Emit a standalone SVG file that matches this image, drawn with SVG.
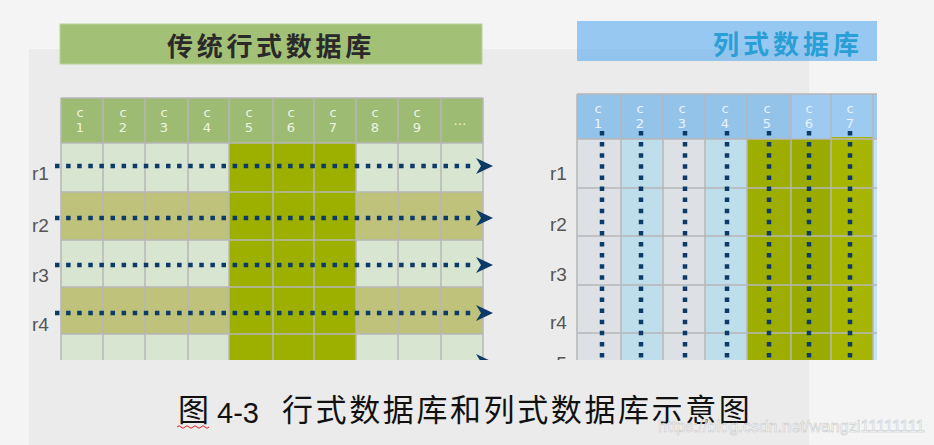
<svg xmlns="http://www.w3.org/2000/svg" width="934" height="445" viewBox="0 0 934 445">
<style>
.hdrL{font-family:"DejaVu Sans",sans-serif;font-size:13px;fill:#eef4e4;text-anchor:middle}
.hdrR{font-family:"DejaVu Sans",sans-serif;font-size:13px;fill:#e8f3fc;text-anchor:middle}
.rl{font-family:"Liberation Sans",Arial,sans-serif;font-size:19px;fill:#555555}
.gl{stroke:#b6b6b6;stroke-width:1.5;fill:none}
.dotH{stroke:#0c3a69;stroke-width:4.5;stroke-dasharray:4.5 6.6;fill:none}
.dotV{stroke:#0c3a69;stroke-width:4.5;stroke-dasharray:4.5 6.6;fill:none}
.ah{fill:#0c3a69}
.cjk{font-family:"Noto Sans CJK SC",sans-serif}
</style>
<defs>
<clipPath id="clipL"><rect x="0" y="90" width="520" height="270"/></clipPath>
<clipPath id="clipR"><rect x="540" y="90" width="337" height="270"/></clipPath>
<clipPath id="clipR5"><rect x="540" y="340" width="40" height="20"/></clipPath>
</defs>
<rect x="0" y="0" width="934" height="445" fill="#f4f4f4"/>
<rect x="29" y="49" width="780" height="396" fill="#ebebeb"/>

<g id="left-title">
<rect x="60" y="24" width="422" height="40" fill="#a3c077" stroke="#b9d199" stroke-width="1"/>
<text x="167" y="56" class="cjk" font-size="26" font-weight="700" letter-spacing="3.7" fill="#2a2a2a">传统行式数据库</text>
</g>

<g id="left-grid" clip-path="url(#clipL)">
<rect x="61" y="98" width="422" height="45" fill="#9dbb73"/>
<rect x="61" y="143" width="422" height="49" fill="#d8e5d0"/>
<rect x="61" y="192" width="422" height="48" fill="#bfc27a"/>
<rect x="61" y="240" width="422" height="47" fill="#d8e5d0"/>
<rect x="61" y="287" width="422" height="47" fill="#bfc27a"/>
<rect x="61" y="334" width="422" height="30" fill="#d8e5d0"/>
<rect x="229" y="143" width="127" height="221" fill="#9db000"/>
<path class="gl" d="M61,98H483M61,143H483M61,192H483M61,240H483M61,287H483M61,334H483M61,98V364M103,98V364M145,98V364M188,98V364M229,98V364M273,98V364M314,98V364M356,98V364M398,98V364M441,98V364M483,98V364"/>
<g>
<text class="hdrL" x="80" y="117">c</text><text class="hdrL" x="80" y="132">1</text>
<text class="hdrL" x="123" y="117">c</text><text class="hdrL" x="123" y="132">2</text>
<text class="hdrL" x="164" y="117">c</text><text class="hdrL" x="164" y="132">3</text>
<text class="hdrL" x="207" y="117">c</text><text class="hdrL" x="207" y="132">4</text>
<text class="hdrL" x="249" y="117">c</text><text class="hdrL" x="249" y="132">5</text>
<text class="hdrL" x="291" y="117">c</text><text class="hdrL" x="291" y="132">6</text>
<text class="hdrL" x="333" y="117">c</text><text class="hdrL" x="333" y="132">7</text>
<text class="hdrL" x="375" y="117">c</text><text class="hdrL" x="375" y="132">8</text>
<text class="hdrL" x="417" y="117">c</text><text class="hdrL" x="417" y="132">9</text>
<text class="hdrL" x="460" y="125">…</text>
</g>
</g>
<g id="left-labels">
<text class="rl" x="32" y="180">r1</text>
<text class="rl" x="32" y="232">r2</text>
<text class="rl" x="32" y="282">r3</text>
<text class="rl" x="32" y="331">r4</text>
</g>

<g id="right-title">
<rect x="577" y="21" width="300" height="40" fill="#97c8f2"/>
<rect x="577" y="49" width="232" height="12" fill="#8fc0ea" opacity="0.5"/>
<text x="713" y="54" class="cjk" font-size="26" font-weight="700" letter-spacing="4" fill="#2a9fd6">列式数据库</text>
</g>

<g id="right-grid" clip-path="url(#clipR)">
<rect x="577" y="94" width="300" height="45" fill="#94c3ea"/>
<rect x="791" y="94" width="86" height="45" fill="#9ccaf0"/>
<rect x="577" y="139" width="44" height="225" fill="#dde1e5"/>
<rect x="621" y="139" width="42" height="225" fill="#bfdeeb"/>
<rect x="663" y="139" width="42" height="225" fill="#dde1e5"/>
<rect x="705" y="139" width="42" height="225" fill="#bfdeeb"/>
<rect x="747" y="139" width="44" height="225" fill="#9dae00"/>
<rect x="791" y="139" width="40" height="225" fill="#9aab00"/>
<rect x="831" y="137" width="42" height="227" fill="#a5b500"/>
<rect x="873" y="139" width="4" height="225" fill="#c8e4f4"/>
<path class="gl" d="M577,94H877M577,139H877M577,188H877M577,236H877M577,285H877M577,333H877M577,94V364M621,94V364M663,94V364M705,94V364M747,94V364M791,94V364M831,94V364M873,94V364"/>
<g>
<text class="hdrR" x="598" y="113">c</text><text class="hdrR" x="598" y="128">1</text>
<text class="hdrR" x="640" y="113">c</text><text class="hdrR" x="640" y="128">2</text>
<text class="hdrR" x="682" y="113">c</text><text class="hdrR" x="682" y="128">3</text>
<text class="hdrR" x="725" y="113">c</text><text class="hdrR" x="725" y="128">4</text>
<text class="hdrR" x="767" y="113">c</text><text class="hdrR" x="767" y="128">5</text>
<text class="hdrR" x="809" y="113">c</text><text class="hdrR" x="809" y="128">6</text>
<text class="hdrR" x="850" y="113">c</text><text class="hdrR" x="850" y="128">7</text>
</g>
</g>
<g id="right-labels">
<text class="rl" x="550" y="180">r1</text>
<text class="rl" x="550" y="231">r2</text>
<text class="rl" x="550" y="281">r3</text>
<text class="rl" x="550" y="329">r4</text>
</g>
<g id="right-label-r5" clip-path="url(#clipR5)">
<text class="rl" x="550" y="370">r5</text>
</g>

<g id="connectors">
<g clip-path="url(#clipL)">
<path class="dotH" d="M55,166H476M55,218H476M55,265H476M55,313H476"/>
<path class="ah" d="M476,158L493,166L476,174L481,166Z"/>
<path class="ah" d="M476,210L493,218L476,226L481,218Z"/>
<path class="ah" d="M476,257L493,265L476,273L481,265Z"/>
<path class="ah" d="M476,305L493,313L476,321L481,313Z"/>
<path class="ah" d="M476,354L493,362L476,370L481,362Z"/>
</g>
<g clip-path="url(#clipR)">
<path class="dotV" d="M602,131V364M641,131V364M685,131V364M727,131V364M769,131V364M809,131V364M850,131V364"/>
</g>
</g>

<g id="caption">
<text x="178" y="421" class="cjk" font-size="31" fill="#111111">图</text>
<path d="M177,427q2,-2.5 4,0t4,0t4,0t4,0t4,0t4,0t4,0t4,0" fill="none" stroke="#e02020" stroke-width="1"/>
<text x="217" y="423" font-family="'Liberation Sans',Arial,sans-serif" font-size="29" fill="#111111">4-3</text>
<text x="282" y="421" class="cjk" font-size="31" letter-spacing="2.6" fill="#111111">行式数据库和列式数据库示意图</text>
<text x="658" y="432" font-family="'Liberation Sans',Arial,sans-serif" font-size="17" textLength="267" lengthAdjust="spacingAndGlyphs" fill="#ffffff" fill-opacity="0.85" stroke="#c4c4c4" stroke-width="0.5">https://blog.csdn.net/wangzi11111111</text>
</g>
</svg>
